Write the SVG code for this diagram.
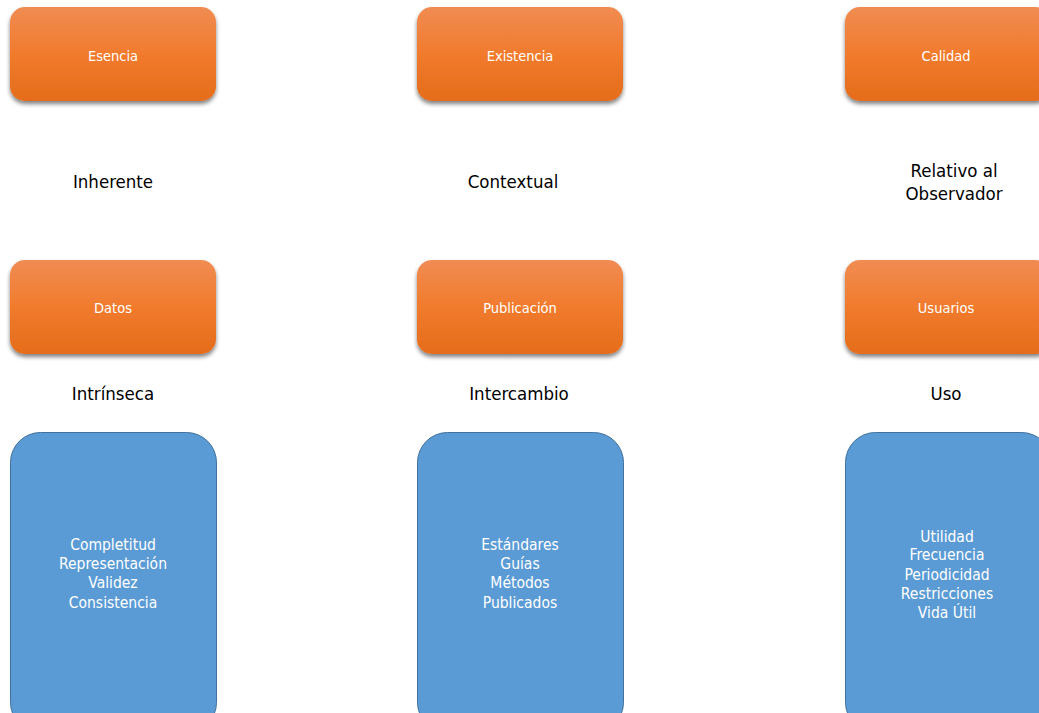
<svg xmlns="http://www.w3.org/2000/svg" width="1039" height="713" viewBox="0 0 1039 713">
<defs>
<linearGradient id="og" x1="0" y1="0" x2="0" y2="1">
<stop offset="0" stop-color="#f08c52"/>
<stop offset="0.5" stop-color="#f17b2d"/>
<stop offset="1" stop-color="#e46c1a"/>
</linearGradient>
<filter id="sh" x="-10%" y="-10%" width="120%" height="130%">
<feGaussianBlur in="SourceAlpha" stdDeviation="2"/>
<feOffset dx="0" dy="3"/>
<feComponentTransfer><feFuncA type="linear" slope="0.5"/></feComponentTransfer>
<feMerge><feMergeNode/><feMergeNode in="SourceGraphic"/></feMerge>
</filter>
</defs>
<style>
.o{fill:url(#og);filter:url(#sh)}
.b{fill:#5b9bd5;stroke:#41719c;stroke-width:1}
.ot{font-family:"DejaVu Sans Condensed","DejaVu Sans",sans-serif;font-size:14.5px;fill:#ffffff;text-anchor:middle}
.bt{font-family:"DejaVu Sans Condensed","DejaVu Sans",sans-serif;font-size:15.5px;fill:#ffffff;text-anchor:middle}
.lt{font-family:"DejaVu Sans Condensed","DejaVu Sans",sans-serif;font-size:18.5px;fill:#000000;text-anchor:middle}
</style>
<rect width="1039" height="713" fill="#ffffff"/>
<g id="connectors"></g>
<g id="esencia"><rect class="o" x="10" y="7" width="206" height="94" rx="15"/><text class="ot" x="113" y="61">Esencia</text></g>
<g id="existencia"><rect class="o" x="417" y="7" width="206" height="94" rx="15"/><text class="ot" x="520" y="61">Existencia</text></g>
<g id="calidad"><rect class="o" x="845" y="7" width="206" height="94" rx="15"/><text class="ot" x="946" y="61">Calidad</text></g>
<g id="inherente"><text class="lt" x="113" y="188">Inherente</text></g>
<g id="contextual"><text class="lt" x="513" y="188">Contextual</text></g>
<g id="relativo"><text class="lt" x="954" y="177">Relativo al</text><text class="lt" x="954" y="200">Observador</text></g>
<g id="datos"><rect class="o" x="10" y="260" width="206" height="94" rx="15"/><text class="ot" x="113" y="313">Datos</text></g>
<g id="publicacion"><rect class="o" x="417" y="260" width="206" height="94" rx="15"/><text class="ot" x="520" y="313">Publicación</text></g>
<g id="usuarios"><rect class="o" x="845" y="260" width="206" height="94" rx="15"/><text class="ot" x="946" y="313">Usuarios</text></g>
<g id="intrinseca"><text class="lt" x="113" y="400">Intrínseca</text></g>
<g id="intercambio"><text class="lt" x="519" y="400">Intercambio</text></g>
<g id="uso"><text class="lt" x="946" y="400">Uso</text></g>
<g id="b1"><rect class="b" x="10.5" y="432.5" width="206" height="300" rx="30"/>
<text class="bt" x="113" y="550">Completitud</text><text class="bt" x="113" y="569">Representación</text><text class="bt" x="113" y="588">Validez</text><text class="bt" x="113" y="608">Consistencia</text></g>
<g id="b2"><rect class="b" x="417.5" y="432.5" width="206" height="300" rx="30"/>
<text class="bt" x="520" y="550">Estándares</text><text class="bt" x="520" y="569">Guías</text><text class="bt" x="520" y="588">Métodos</text><text class="bt" x="520" y="608">Publicados</text></g>
<g id="b3"><rect class="b" x="845.5" y="432.5" width="206" height="300" rx="30"/>
<text class="bt" x="947" y="542">Utilidad</text><text class="bt" x="947" y="560">Frecuencia</text><text class="bt" x="947" y="580">Periodicidad</text><text class="bt" x="947" y="599">Restricciones</text><text class="bt" x="947" y="618">Vida Útil</text></g>
</svg>
